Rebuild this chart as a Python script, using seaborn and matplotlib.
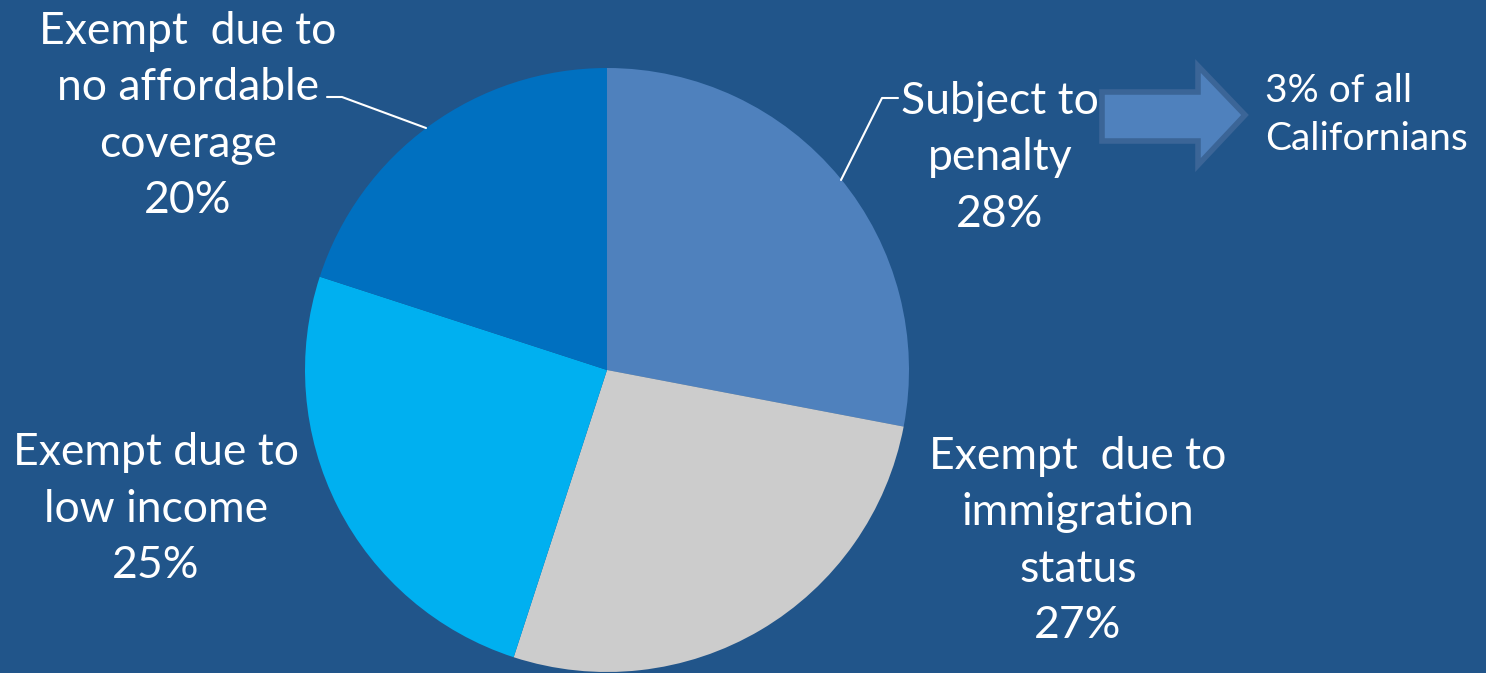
import matplotlib
matplotlib.use("Agg")
import matplotlib.pyplot as plt
import seaborn as sns
from matplotlib.patches import Polygon

sns.set_theme(style="white")
plt.rcParams['font.family'] = ['Lato', 'DejaVu Sans']

categories = ["Subject to\npenalty", "Exempt  due to\nimmigration\nstatus",
              "Exempt due to\nlow income", "Exempt  due to\nno affordable\ncoverage"]
values = [28, 27, 25, 20]
colors = ["#4F81BD", "#CCCCCC", "#00B0F0", "#0070C0"]
note_text = "3% of all\nCalifornians"

BG = "#21558A"
W, H = 1486, 673
fig = plt.figure(figsize=(W / 100, H / 100), dpi=100, facecolor=BG)
ax = fig.add_axes([0, 0, 1, 1])
ax.set_facecolor(BG)

cx, cy, r = 607, H - 370, 302
ax.pie(values, colors=colors, startangle=90, counterclock=False,
       center=(cx, cy), radius=r, frame=True,
       wedgeprops=dict(linewidth=0))
ax.set_xlim(0, W)
ax.set_ylim(0, H)
ax.set_aspect("equal")
ax.axis("off")

fs = 32
txt = dict(color="white", fontsize=fs, ha="center", va="center", linespacing=1.47)
labels = [f"{c}\n{v}%" for c, v in zip(categories, values)]
pos = [(1000, H - 158), (1078, H - 541), (156, H - 509), (188, H - 116)]
for lab, (x, y) in zip(labels, pos):
    ax.text(x, y, lab, **txt)

# leader lines
ax.plot([841, 882, 898], [H - 180, H - 98, H - 98], color="white", lw=1.5)
ax.plot([426, 342, 327], [H - 128, H - 97, H - 97], color="white", lw=1.5)

# block arrow
arrow = Polygon([(1102, H - 92), (1198, H - 92), (1198, H - 66), (1245, H - 115),
                 (1198, H - 165), (1198, H - 141), (1102, H - 141)],
                closed=True, facecolor="#4F81BD", edgecolor="#3B6597", lw=4,
                joinstyle="miter")
ax.add_patch(arrow)

ax.text(1265, H - 115, note_text, color="white", fontsize=28, ha="left",
        va="center", linespacing=1.42)

fig.savefig("out.png", dpi=100, facecolor=BG)
